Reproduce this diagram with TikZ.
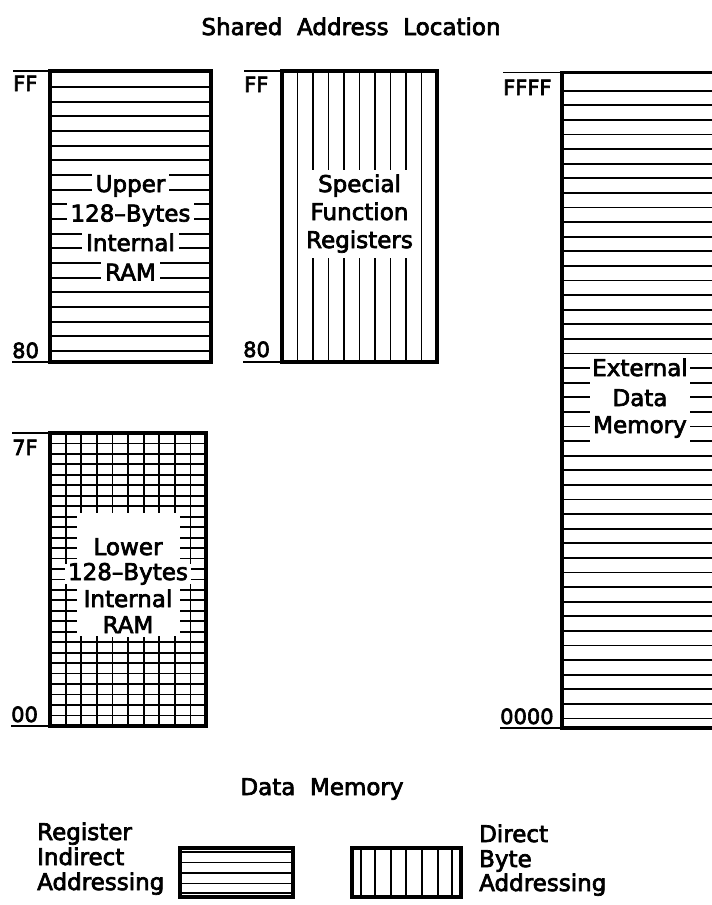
\documentclass[tikz,border=0pt]{standalone}
\usepackage{fontspec}
\setmainfont{DejaVu Sans}[FakeBold=3]
\usetikzlibrary{positioning}
\newcommand{\bigtext}{\fontsize{23}{28}\selectfont}
\newcommand{\addrtext}{\fontsize{21}{24}\selectfont}
\begin{document}
\begin{tikzpicture}
  [x=1pt, y=-1pt,
   frame/.style={line width=3.2pt, line join=miter},
   hatch/.style={line width=1.8pt},
   tick/.style={line width=1.8pt},
   caption/.style={font=\bigtext, inner sep=0pt, anchor=base},
   legendtext/.style={font=\bigtext, inner sep=0pt, anchor=base west},
   gaptext/.style={font=\bigtext, anchor=base, fill=white, inner xsep=4pt, inner ysep=0pt,
                   text height=19.5pt, text depth=9.5pt},
   celltext/.style={font=\bigtext, anchor=base, fill=white, inner xsep=3pt, inner ysep=0pt,
                   text height=16pt, text depth=4pt},
   addr/.style={font=\addrtext, inner sep=0pt, anchor=base west}]

  \useasboundingbox (0,0) rectangle (712,905);
  \fill[white] (0,0) rectangle (712,905);

  % Titel
  \node[caption] (title) at (351,35) {Shared\ \ Address\ \ Location};

  % Upper 128 bytes internal RAM
  \coordinate (uptl) at (50,71);
  \coordinate (upbl) at (50,362);
  \foreach \k in {0,...,18}
    \draw[hatch] (50,{87+\k*14.67}) -- (211,{87+\k*14.67});
  \node[gaptext] (up1) at (130.5,192) {Upper};
  \node[gaptext] (up2) at (130.5,221.5) {128--Bytes};
  \node[gaptext] (up3) at (130.5,251) {Internal};
  \node[gaptext] (up4) at (130.5,280.5) {RAM};
  \draw[frame] (uptl) rectangle (211,362);
  \node[addr] (upff) at (13,91) {FF};
  \node[addr] (up80) at (12,358) {80};
  \draw[tick] (upff.west |- uptl) -- (uptl);
  \draw[tick] (up80.west |- upbl) -- (upbl);

  % Special function registers
  \coordinate (sftl) at (282,71);
  \coordinate (sfbl) at (282,362);
  \foreach \k in {1,...,9}
    \draw[hatch] ({282+\k*15.5},71) -- ({282+\k*15.5},362);
  \fill[white] (304,170) rectangle (415,258);
  \node[caption] (sf1) at (359.5,192) {Special};
  \node[caption] (sf2) at (359.5,220) {Function};
  \node[caption] (sf3) at (359.5,248) {Registers};
  \draw[frame] (sftl) rectangle (437,362);
  \node[addr] (sfff) at (244,92) {FF};
  \node[addr] (sf80) at (243,357) {80};
  \draw[tick] (sfff.west |- sftl) -- (sftl);
  \draw[tick] (sf80.west |- sfbl) -- (sfbl);

  % Lower 128 bytes internal RAM
  \coordinate (lotl) at (50,433);
  \coordinate (lobl) at (50,726);
  \foreach \k in {1,...,9}
    \draw[hatch] ({50+\k*15.6},433) -- ({50+\k*15.6},726);
  \foreach \j in {1,...,27}
    \draw[hatch] (50,{433+\j*10.46}) -- (206,{433+\j*10.46});
  \fill[white] (77,513) rectangle (180,636);
  \node[celltext] (lo1) at (128,555) {Lower};
  \node[celltext] (lo2) at (128,580) {128--Bytes};
  \node[celltext] (lo3) at (128,607) {Internal};
  \node[celltext] (lo4) at (128,633) {RAM};
  \draw[frame] (lotl) rectangle (206,726);
  \node[addr] (lo7f) at (12,455) {7F};
  \node[addr] (lo00) at (11,722) {00};
  \draw[tick] (lo7f.west |- lotl) -- (lotl);
  \draw[tick] (lo00.west |- lobl) -- (lobl);

  % External data memory
  \coordinate (extl) at (562,72.5);
  \coordinate (exbl) at (562,728);
  \foreach \k in {0,...,43}
    \draw[hatch] (562,{90.7+\k*14.6}) -- (718,{90.7+\k*14.6});
  \fill[white] (590,360) rectangle (690,448);
  \node[caption] (ex1) at (640,376) {External};
  \node[caption] (ex2) at (640,406) {Data};
  \node[caption] (ex3) at (640,433) {Memory};
  \draw[frame] (extl) rectangle (718,728);
  \node[addr] (exff) at (503,95) {FFFF};
  \node[addr] (ex00) at (500,724) {0000};
  \draw[tick] (exff.west |- extl) -- (extl);
  \draw[tick] (ex00.west |- exbl) -- (exbl);

  % Unterschrift
  \node[caption] (datamem) at (322,795) {Data\ \ Memory};

  % Legende
  \foreach \yy in {852,862.5,873,883.5,893}
    \draw[hatch] (180,\yy) -- (293,\yy);
  \draw[frame] (180,848) rectangle (293,897);
  \foreach \xx in {361,375,391,406,422,438,452}
    \draw[hatch] (\xx,848) -- (\xx,897);
  \draw[frame] (352,848) rectangle (461,897);
  \node[legendtext] (rg1) at (37,840) {Register};
  \node[legendtext] (rg2) at (37,865) {Indirect};
  \node[legendtext] (rg3) at (37,890) {Addressing};
  \node[legendtext] (db1) at (479,842) {Direct};
  \node[legendtext] (db2) at (479,867) {Byte};
  \node[legendtext] (db3) at (479,891) {Addressing};
\end{tikzpicture}
\end{document}
